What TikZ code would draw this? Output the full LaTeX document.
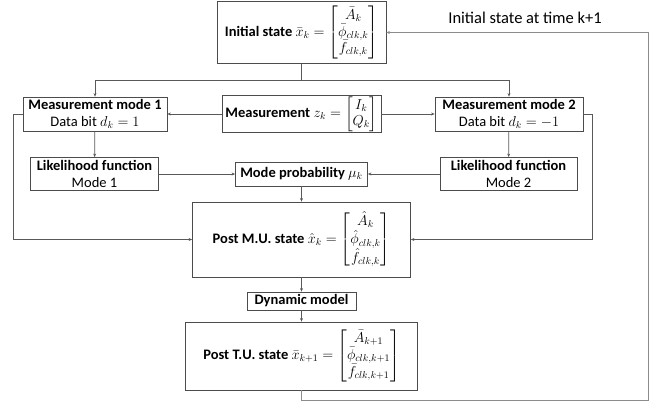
\documentclass[tikz,border=0pt]{standalone}
\usepackage{amsmath}
\usepackage{amssymb}
\usepackage{fontspec}
\setmainfont{Carlito}
\usepackage{tikz}
\usetikzlibrary{positioning,arrows.meta}

\tikzset{
  block/.style={draw=black!70, line width=0.8pt, align=center, inner sep=1pt,
    font=\fontsize{14.5}{16.5}\selectfont},
  link/.style={draw=black!65, line width=0.7pt, -{Stealth[length=3.5pt,width=3pt]}},
}

\begin{document}
\begin{tikzpicture} [x=1pt,y=-1pt,on grid]
    \useasboundingbox (0,0) rectangle (665,403);
    \node[block, minimum width=169pt, minimum height=62pt] (init) at (301.5,32.5)
      {\textbf{Initial state} $\bar{x}_k = \renewcommand{\arraystretch}{0.92}\begin{bmatrix}\bar{A}_k\\ \bar{\phi}_{clk,k}\\ \bar{f}_{clk,k}\end{bmatrix}$};
    \node[block, minimum width=159pt, minimum height=34pt] (meas) [below=81.5pt of init]
      {\textbf{Measurement} $z_k = \begin{bmatrix}I_k\\ Q_k\end{bmatrix}$};
    \node[block, minimum width=144pt, minimum height=34pt] (mode1) [left=206.5pt of meas]
      {\textbf{Measurement mode 1}\\ Data bit $d_k = 1$};
    \node[block, minimum width=148pt, minimum height=34pt] (mode2) [right=207.5pt of meas]
      {\textbf{Measurement mode 2}\\ Data bit $d_k = -1$};
    \node[block, minimum width=132pt, minimum height=24pt] (prob) [below=60pt of meas]
      {\textbf{Mode probability} $\mu_k$};
    \node[block, minimum width=128pt, minimum height=33pt] (like1) [left=207pt of prob]
      {\textbf{Likelihood function}\\ Mode 1};
    \node[block, minimum width=137pt, minimum height=33pt] (like2) [right=207pt of prob]
      {\textbf{Likelihood function}\\ Mode 2};
    \node[block, minimum width=218pt, minimum height=75pt] (postmu) [below=65.5pt of prob]
      {\textbf{Post M.U. state} $\hat{x}_k = \begin{bmatrix}\hat{A}_k\\ \hat{\phi}_{clk,k}\\ \hat{f}_{clk,k}\end{bmatrix}$};
    \node[block, minimum width=109pt, minimum height=18pt] (dyn) [below=61.5pt of postmu]
      {\textbf{Dynamic model}};
    \node[block, minimum width=232pt, minimum height=68pt] (posttu) [below=55pt of dyn]
      {\textbf{Post T.U. state} $\bar{x}_{k+1} = \begin{bmatrix}\bar{A}_{k+1}\\ \bar{\phi}_{clk,k+1}\\ \bar{f}_{clk,k+1}\end{bmatrix}$};
    \node[font=\fontsize{16.5}{18}\selectfont] (label) at (525,18) {Initial state at time k+1};

    \coordinate (split) at (301.5,80);
    \coordinate (back) at (648,400);

    \draw[link, -] (init) -- (split);
    \draw[link] (split) -| (mode1);
    \draw[link] (split) -| (mode2);
    \draw[link] (meas) -- (mode1);
    \draw[link] (meas) -- (mode2);
    \draw[link] (mode1) -- (like1);
    \draw[link] (mode2) -- (like2);
    \draw[link] (like1) -- (prob);
    \draw[link] (like2) -- (prob);
    \draw[link] (prob) -- (postmu);
    \draw[link] (mode1.west) -- ++(-9,0) |- (postmu.west);
    \draw[link] (mode2.east) -- ++(9,0) |- (postmu.east);
    \draw[link] (postmu) -- (dyn);
    \draw[link] (dyn) -- (posttu);
    \draw[link, draw=black!45] (posttu.south) |- (back) |- (init.east);
\end{tikzpicture}
\end{document}
